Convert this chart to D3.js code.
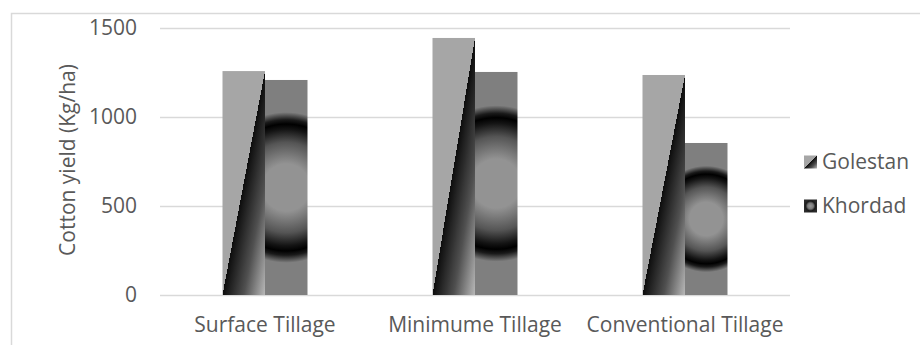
<!DOCTYPE html>
<html><head><meta charset="utf-8">
<script src="https://cdn.jsdelivr.net/npm/d3@7"></script>
<style>body{margin:0;background:#fff}</style></head><body>
<svg id="c" width="920" height="345"></svg>
<script>
const categories = ["Surface Tillage", "Minimume Tillage", "Conventional Tillage"];
const seriesNames = ["Golestan", "Khordad"];
const golestan = [1258, 1444, 1236];
const khordad = [1208, 1253, 854];
const yTicks = [0, 500, 1000, 1500];
const yTitle = "Cotton yield (Kg/ha)";

const FONT = "'Open Sans', sans-serif";
const FS = 21;
const TXT = "#595959";
const GRID = "#d9d9d9";

const svg = d3.select("#c");
const defs = svg.append("defs");

// chart border
svg.append("rect").attr("x", 11.5).attr("y", 13.5).attr("width", 940).attr("height", 360)
  .attr("fill", "none").attr("stroke", GRID).attr("stroke-width", 1.5);

const x0 = d3.scaleBand().domain(categories).range([160, 790]).padding(0);
const x1 = d3.scaleBand().domain(seriesNames).range([62.5, 147.5]).padding(0);
const y = d3.scaleLinear().domain([0, 1500]).range([295, 28]);

// gridlines
svg.append("g").selectAll("line").data(yTicks).join("line")
  .attr("x1", 160).attr("x2", 790)
  .attr("y1", d => Math.round(y(d)) + 0.5).attr("y2", d => Math.round(y(d)) + 0.5)
  .attr("stroke", GRID).attr("stroke-width", 1.3);

// y tick labels
svg.append("g").selectAll("text").data(yTicks).join("text")
  .attr("x", 137).attr("y", d => y(d)).attr("dy", "0.35em")
  .attr("text-anchor", "end").attr("font-family", FONT).attr("font-size", FS).attr("fill", TXT)
  .text(d => d);

// y title
svg.append("text").attr("transform", "translate(68,160) rotate(-90)")
  .attr("text-anchor", "middle").attr("dy", "0.35em")
  .attr("font-family", FONT).attr("font-size", FS).attr("fill", TXT).text(yTitle);

// x labels
svg.append("g").selectAll("text").data(categories).join("text")
  .attr("x", d => x0(d) + x0.bandwidth() / 2).attr("y", 332)
  .attr("text-anchor", "middle").attr("font-family", FONT).attr("font-size", FS).attr("fill", TXT)
  .text(d => d);

// Golestan gradient (diagonal split)
const lg = defs.append("linearGradient").attr("id", "gol")
  .attr("x1", 0).attr("y1", 0).attr("x2", 1).attr("y2", 1);
[[0, "#a6a6a6"], [0.5, "#a6a6a6"], [0.5, "#0d0d0d"], [0.75, "#505050"], [1, "#b8b8b8"]]
  .forEach(s => lg.append("stop").attr("offset", s[0]).attr("stop-color", s[1]));

// Golestan bars
svg.append("g").selectAll("rect").data(golestan).join("rect")
  .attr("x", (d, i) => x0(categories[i]) + x1("Golestan"))
  .attr("y", d => y(d)).attr("width", x1.bandwidth()).attr("height", d => y(0) - y(d))
  .attr("fill", "url(#gol)");

// Khordad bars with per-bar radial gradient
khordad.forEach((d, i) => {
  const bx = x0(categories[i]) + x1("Khordad");
  const by = y(d), bh = y(0) - y(d), bw = x1.bandwidth();
  const rg = defs.append("radialGradient").attr("id", "kh" + i)
    .attr("gradientUnits", "userSpaceOnUse")
    .attr("cx", bx + bw / 2).attr("cy", by + bh / 2).attr("r", bh / 2);
  [[0, "#939393"], [0.22, "#939393"], [0.42, "#555555"], [0.54, "#141414"], [0.59, "#000000"], [0.63, "#1a1a1a"], [0.7, "#7f7f7f"], [1, "#7f7f7f"]]
    .forEach(s => rg.append("stop").attr("offset", s[0]).attr("stop-color", s[1]));
  svg.append("rect").attr("x", bx).attr("y", by).attr("width", bw).attr("height", bh)
    .attr("fill", "url(#kh" + i + ")");
});

// legend
const legIcon = defs.append("radialGradient").attr("id", "khleg");
[[0, "#9a9a9a"], [0.45, "#7a7a7a"], [0.75, "#1a1a1a"], [1, "#2a2a2a"]]
  .forEach(s => legIcon.append("stop").attr("offset", s[0]).attr("stop-color", s[1]));

const legY = [162, 206];
const leg = svg.append("g");
seriesNames.forEach((n, i) => {
  leg.append("rect").attr("x", 804).attr("y", legY[i] - 6.5).attr("width", 13).attr("height", 13)
    .attr("fill", i === 0 ? "url(#gol)" : "url(#khleg)");
  leg.append("text").attr("x", 822).attr("y", legY[i]).attr("dy", "0.35em")
    .attr("font-family", FONT).attr("font-size", FS).attr("fill", TXT).text(n);
});
</script>
</body></html>
